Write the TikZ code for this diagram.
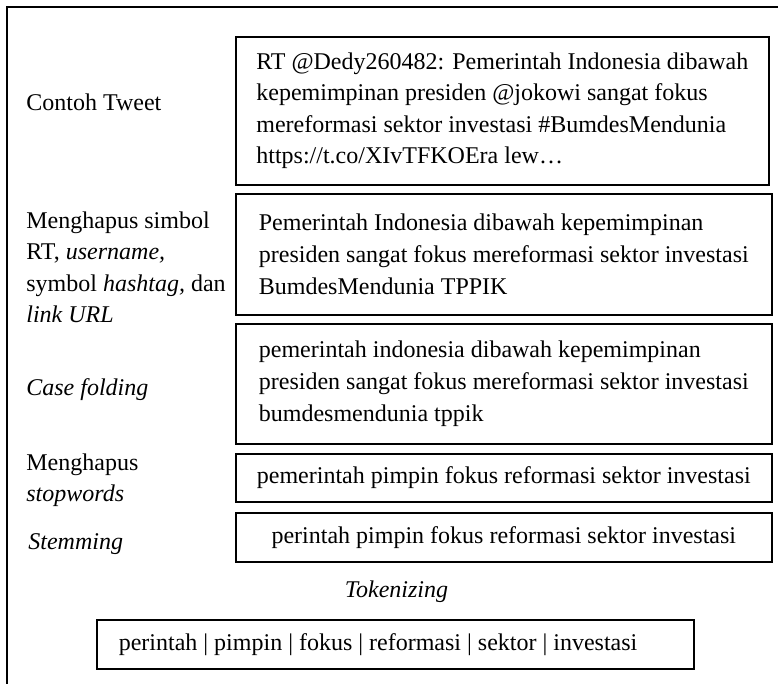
\documentclass[tikz,border=0pt]{standalone}
\usepackage{fontspec}
\setmainfont{Liberation Serif}
\tikzset{
    every node/.append style={execute at begin node={\spaceskip=0.25em\relax}},
    box/.style={draw, line width=0.8pt, anchor=north west, inner xsep=10pt, inner ysep=0pt, align=left},
    stage/.style={anchor=base west, inner sep=0pt, align=left}
}
\begin{document}
\begin{tikzpicture}[x=0.5pt, y=-0.5pt, font=\fontsize{12}{15.8}\selectfont]
        \useasboundingbox (0,0) rectangle (778,684);
        \draw[line width=0.7pt] (7,700) -- (7,7) -- (790,7);
        
        \node (lcontoh) at (26,111) [stage] {Contoh Tweet};
        \node (lsimbol) at (26,323) [stage] {Menghapus simbol\\RT, \textit{username,}\\symbol \textit{hashtag,} dan\\\textit{link URL}};
        \node (lcase) at (26,396) [stage] {\textit{Case folding}};
        \node (lstop) at (26,502) [stage] {Menghapus\\\textit{stopwords}};
        \node (lstem) at (28,550) [stage] {\textit{Stemming}};
        
        \node (tweet) at (235,36) [box, minimum width=266.5pt, minimum height=74pt] {RT @Dedy260482: Pemerintah Indonesia dibawah\\kepemimpinan presiden @jokowi sangat fokus\\mereformasi sektor investasi \#BumdesMendunia\\https://t.co/XIvTFKOEra lew…};
        \node (simbol) at (235,193) [box, minimum width=268pt, minimum height=60.5pt] {Pemerintah Indonesia dibawah kepemimpinan\\presiden sangat fokus mereformasi sektor investasi\\BumdesMendunia TPPIK};
        \node (case) at (235,323) [box, minimum width=268pt, minimum height=60pt] {pemerintah indonesia dibawah kepemimpinan\\presiden sangat fokus mereformasi sektor investasi\\bumdesmendunia tppik};
        \node (stop) at (235,453) [box, minimum width=268pt, minimum height=24pt, align=center] {pemerintah pimpin fokus reformasi sektor investasi};
        \node (stem) at (235,512) [box, minimum width=268pt, minimum height=24.5pt, align=center] {perintah pimpin fokus reformasi sektor investasi};
        
        \node (ltoken) at (396.5,598) [anchor=base, inner sep=0pt] {\textit{Tokenizing}};
        \node (token) at (96,619) [box, inner xsep=11pt, text width=276.5pt, minimum height=24.5pt] {perintah | pimpin | fokus | reformasi | sektor | investasi};
    \end{tikzpicture}
\end{document}
